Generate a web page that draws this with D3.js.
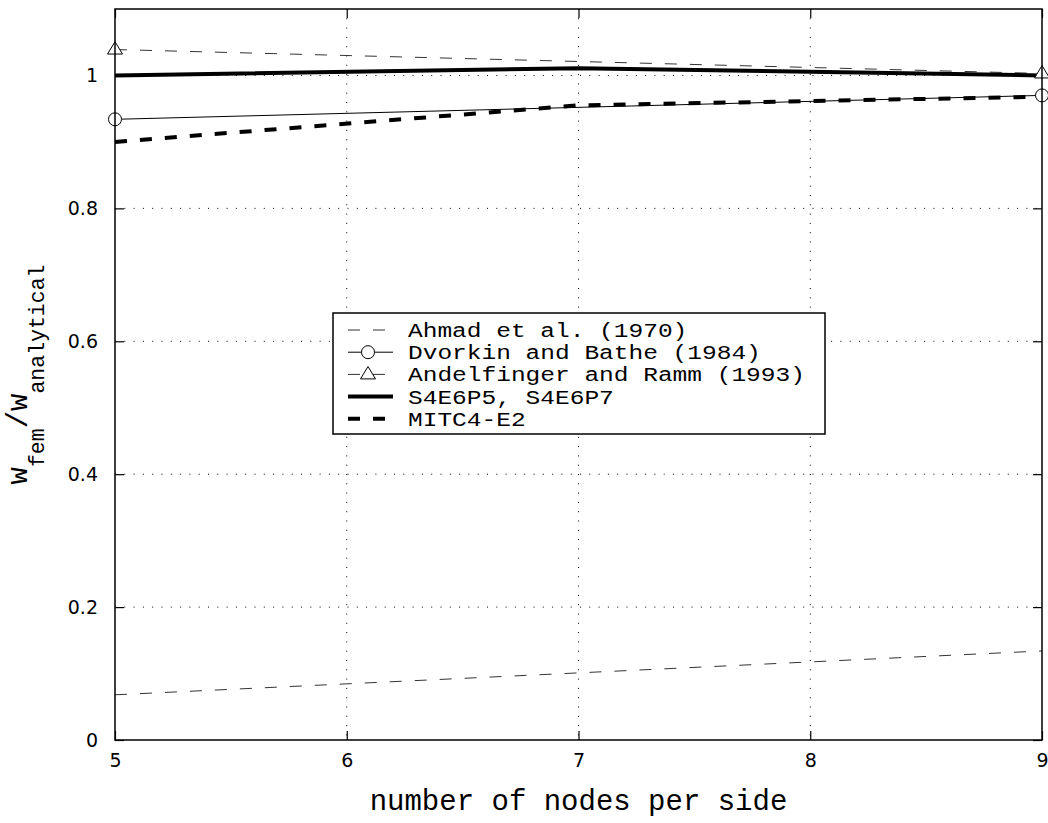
<!DOCTYPE html>
<html>
<head>
<meta charset="utf-8">
<script src="https://cdn.jsdelivr.net/npm/d3@7/dist/d3.min.js"></script>
<style>
  html, body { margin: 0; padding: 0; background: #fff; }
  svg { display: block; }
</style>
</head>
<body>
<svg id="chart" width="1048" height="823"></svg>
<script>
// Normalised centre deflection vs. mesh density
const xTicks = [5, 6, 7, 8, 9];
const yTicks = [0, 0.2, 0.4, 0.6, 0.8, 1];
const yTickLabels = ["0", "0.2", "0.4", "0.6", "0.8", "1"];

const nodesFull = [5, 7, 9];
const nodesEnds = [5, 9];

const ahmadValues = [0.068, 0.101, 0.134];
const dvorkinValues = [0.934, 0.970];
const andelfingerValues = [1.039, 1.003];
const s4e6Values = [1.000, 1.011, 1.000];
const mitcValues = [0.900, 0.955, 0.968];

const legendLabels = [
  "Ahmad et al. (1970)",
  "Dvorkin and Bathe (1984)",
  "Andelfinger and Ramm (1993)",
  "S4E6P5, S4E6P7",
  "MITC4-E2"
];

const xLabel = "number of nodes per side";

const W = 1048, H = 823;
const margin = { left: 115, right: 6, top: 9, bottom: 83 };
const pw = W - margin.left - margin.right;
const ph = H - margin.top - margin.bottom;

const svg = d3.select("#chart");
const g = svg.append("g").attr("transform", `translate(${margin.left},${margin.top})`);

const x = d3.scaleLinear().domain([5, 9]).range([0, pw]);
const y = d3.scaleLinear().domain([0, 1.1]).range([ph, 0]);

const mono = "'Liberation Mono', 'DejaVu Sans Mono', monospace";
const sans = "'DejaVu Sans', sans-serif";

// dotted grid
g.append("g").selectAll("line").data(xTicks.slice(1, -1)).join("line")
  .attr("x1", d => x(d)).attr("x2", d => x(d))
  .attr("y1", 0).attr("y2", ph)
  .attr("stroke", "#000").attr("stroke-width", 1)
  .attr("stroke-dasharray", "1,8.3");
g.append("g").selectAll("line").data(yTicks.slice(1)).join("line")
  .attr("x1", 0).attr("x2", pw)
  .attr("y1", d => y(d)).attr("y2", d => y(d))
  .attr("stroke", "#000").attr("stroke-width", 1)
  .attr("stroke-dasharray", "1,8.3");

// axes with inward ticks on all four sides
const tickLen = 9;
const axB = g.append("g").attr("transform", `translate(0,${ph})`)
  .call(d3.axisBottom(x).tickValues(xTicks).tickSizeInner(-tickLen).tickSizeOuter(0).tickPadding(14).tickFormat(d3.format("d")));
const axT = g.append("g")
  .call(d3.axisTop(x).tickValues(xTicks).tickSizeInner(-tickLen).tickSizeOuter(0).tickFormat(""));
const axL = g.append("g")
  .call(d3.axisLeft(y).tickValues(yTicks).tickSizeInner(-tickLen).tickSizeOuter(0).tickPadding(17)
    .tickFormat((d, i) => yTickLabels[i]));
const axR = g.append("g").attr("transform", `translate(${pw},0)`)
  .call(d3.axisRight(y).tickValues(yTicks).tickSizeInner(-tickLen).tickSizeOuter(0).tickFormat(""));

[axB, axT, axL, axR].forEach(a => {
  a.select(".domain").remove();
  a.selectAll(".tick line").attr("stroke", "#000").attr("stroke-width", 1.2);
  a.selectAll("text").attr("font-family", sans).attr("font-size", 19).attr("fill", "#000");
});

// series
const seriesList = [
  { nodes: nodesFull, values: ahmadValues, width: 1, dash: "12,13", color: "#333", marker: null },
  { nodes: nodesEnds, values: dvorkinValues, width: 1, dash: null, color: "#000", marker: "circle" },
  { nodes: nodesEnds, values: andelfingerValues, width: 1, dash: "12,13", color: "#333", marker: "triangle" },
  { nodes: nodesFull, values: s4e6Values, width: 4, dash: null, color: "#000", marker: null },
  { nodes: nodesFull, values: mitcValues, width: 4, dash: "12,13", color: "#000", marker: null }
];

const line = d3.line().x(d => x(d[0])).y(d => y(d[1]));

function drawMarker(sel, type, cx, cy) {
  if (type === "circle") {
    sel.append("circle").attr("cx", cx).attr("cy", cy).attr("r", 6.5)
      .attr("fill", "#fff").attr("stroke", "#000").attr("stroke-width", 1);
  } else if (type === "triangle") {
    const s = 7.5;
    sel.append("path")
      .attr("d", `M${cx},${cy - s * 1.05} L${cx + s},${cy + s * 0.6} L${cx - s},${cy + s * 0.6} Z`)
      .attr("fill", "#fff").attr("stroke", "#000").attr("stroke-width", 1);
  }
}

const plotLayer = g.append("g");
seriesList.forEach(s => {
  const pts = s.nodes.map((n, i) => [n, s.values[i]]);
  plotLayer.append("path").datum(pts).attr("d", line)
    .attr("fill", "none").attr("stroke", s.color).attr("stroke-width", s.width)
    .attr("stroke-dasharray", s.dash);
});
seriesList.forEach(s => {
  if (!s.marker) return;
  s.nodes.forEach((n, i) => drawMarker(plotLayer, s.marker, x(n), y(s.values[i])));
});

// frame
g.append("rect").attr("x", 0).attr("y", 0).attr("width", pw).attr("height", ph)
  .attr("fill", "none").attr("stroke", "#000").attr("stroke-width", 1.5);

// legend
const leg = svg.append("g");
const lx = 333, ly = 313, lw = 492, lh = 121;
leg.append("rect").attr("x", lx).attr("y", ly).attr("width", lw).attr("height", lh)
  .attr("fill", "#fff").attr("stroke", "#000").attr("stroke-width", 1.5);
const rowY = i => 330 + i * 22.2;
const charW = 14.7;
seriesList.forEach((s, i) => {
  const yy = rowY(i);
  leg.append("line").attr("x1", 348).attr("x2", 393).attr("y1", yy).attr("y2", yy)
    .attr("stroke", s.color).attr("stroke-width", s.width).attr("stroke-dasharray", s.dash);
  if (s.marker) drawMarker(leg, s.marker, 368, yy);
  leg.append("text").attr("x", 408).attr("y", yy).attr("dy", "0.36em")
    .attr("font-family", mono).attr("font-size", 19.4).attr("fill", "#000")
    .attr("textLength", legendLabels[i].length * charW)
    .attr("lengthAdjust", "spacingAndGlyphs")
    .text(legendLabels[i]);
});

// axis titles
svg.append("text").attr("x", margin.left + pw / 2).attr("y", 810)
  .attr("text-anchor", "middle").attr("font-family", mono).attr("font-size", 29)
  .attr("fill", "#000").text(xLabel);

const yl = svg.append("text")
  .attr("transform", `translate(27,${margin.top + ph / 2}) rotate(-90)`)
  .attr("text-anchor", "middle").attr("font-family", mono).attr("fill", "#000");
yl.append("tspan").attr("font-size", 29).text("w");
yl.append("tspan").attr("font-size", 21.5).attr("dy", 17).text("fem");
yl.append("tspan").attr("font-size", 29).attr("dy", -17).text("/w");
yl.append("tspan").attr("font-size", 21.5).attr("dy", 17).text("analytical");
</script>
</body>
</html>
